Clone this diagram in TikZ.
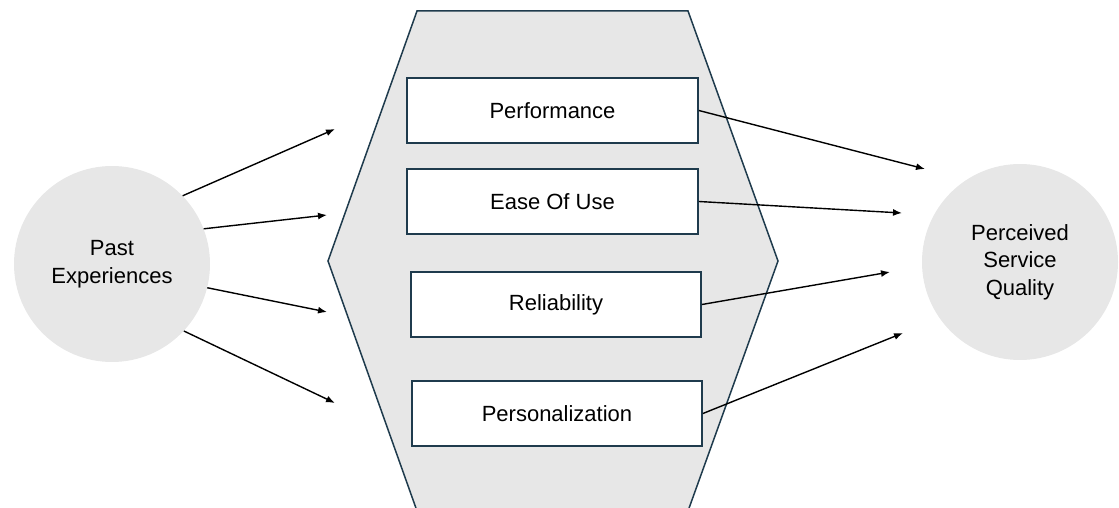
\documentclass[tikz,border=0pt]{standalone}
\usepackage{fontspec}
\setmainfont{Liberation Sans}
\usetikzlibrary{arrows.meta}
\definecolor{fillgray}{HTML}{E7E7E7}
\definecolor{edgeblue}{HTML}{1F3B4D}
\begin{document}
\begin{tikzpicture}[x=1pt,y=-1pt,
  txt/.style={font=\fontsize{22}{27.5}\selectfont, text=black},
  factor/.style={txt, draw=edgeblue, line width=1.8pt, fill=white, minimum height=65pt, inner sep=0pt},
  bubble/.style={txt, circle, fill=fillgray, minimum size=196pt, inner sep=0pt, align=center},
  hexagon/.style={draw=edgeblue, line width=1.5pt, fill=fillgray, line join=miter},
  arr/.style={draw=black, line width=1.4pt, -{Latex[length=9pt,width=7pt]}}
]
\useasboundingbox (0,0) rectangle (1119,508);
% backdrop hexagon
\draw[hexagon] (417,11) -- (688,11) -- (778,261) -- (688,511) -- (417,511) -- (328,261) -- cycle;

% circles
\node[bubble] (pe) at (112,264) {Past\\Experiences};
\node[bubble] (psq) at (1020,262) {Perceived\\Service\\Quality};

% factor boxes
\node[factor, minimum width=291pt] (perf) at (552.5,110.5) {Performance};
\node[factor, minimum width=291pt] (ease) at (552.5,201.5) {Ease Of Use};
\node[factor, minimum width=290pt] (rel) at (556,304.5) {Reliability};
\node[factor, minimum width=290pt] (pers) at (557,413.5) {Personalization};

% free ends of the arrows
\coordinate (l1) at (335,129);
\coordinate (l2) at (327,215);
\coordinate (l3) at (327,312);
\coordinate (l4) at (335,403);
\coordinate (r1) at (925,169);
\coordinate (r2) at (902,213);
\coordinate (r3) at (890,272);
\coordinate (r4) at (903,333);

% arrows from Past Experiences
\draw[arr] (pe.44) -- (l1);
\draw[arr] (pe.21) -- (l2);
\draw[arr] (pe.-14) -- (l3);
\draw[arr] (pe.-43) -- (l4);

% arrows towards Perceived Service Quality
\draw[arr] (perf.east) -- (r1);
\draw[arr] (ease.east) -- (r2);
\draw[arr] (rel.east) -- (r3);
\draw[arr] (pers.east) -- (r4);
\end{tikzpicture}
\end{document}
